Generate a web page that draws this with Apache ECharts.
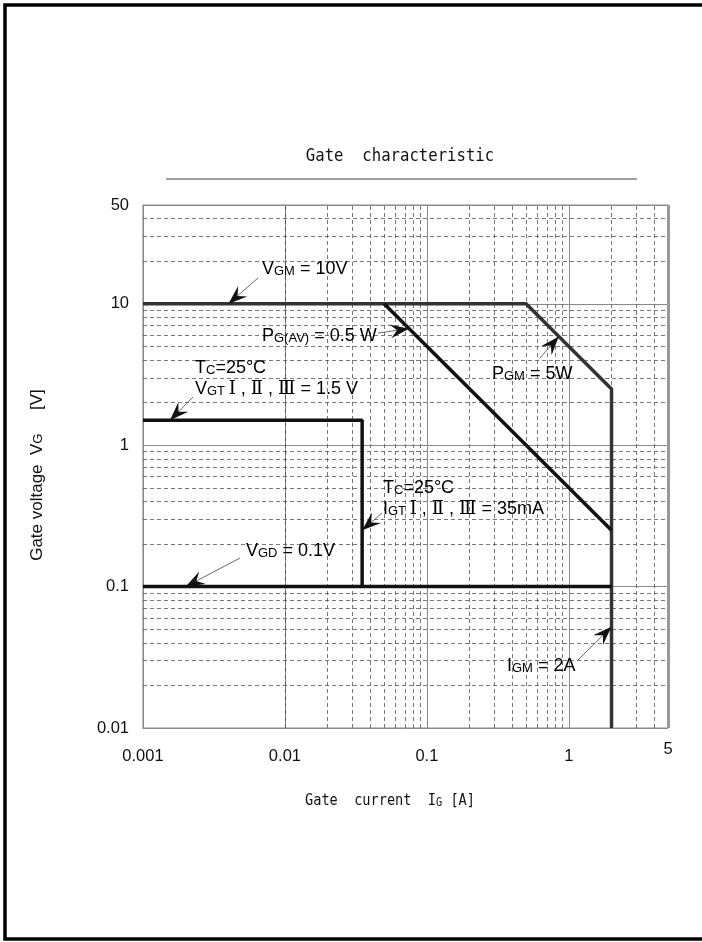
<!DOCTYPE html>
<html>
<head>
<meta charset="utf-8">
<script src="https://cdn.jsdelivr.net/npm/echarts@6/dist/echarts.min.js"></script>
<style>html,body{margin:0;padding:0;background:#fff}#c{width:702px;height:942px}</style>
</head>
<body>
<div id="c"></div>
<script>
// ---- data ----
var xTickValues = [0.001, 0.01, 0.1, 1, 5];
var yTickValues = [0.01, 0.1, 1, 10, 50];
var xMinorGrid = [0.002,0.003,0.004,0.005,0.006,0.007,0.008,0.009,0.02,0.03,0.04,0.05,0.06,0.07,0.08,0.09,0.2,0.3,0.4,0.5,0.6,0.7,0.8,0.9,2,3,4];
var yMinorGrid = [0.02,0.03,0.04,0.05,0.06,0.07,0.08,0.09,0.2,0.3,0.4,0.5,0.6,0.7,0.8,0.9,2,3,4,5,6,7,8,9,20,30,40];
var ratingOutline = [[0.001,10],[0.5,10],[2,2.5],[2,0.01]];   // VGM=10V, PGM=5W, IGM=2A
var pgAvLine = [[0.05,10],[2,0.25]];                          // PG(AV)=0.5W
var vgtLine = [[0.001,1.5],[0.035,1.5],[0.035,0.1]];          // VGT=1.5V, IGT=35mA
var vgdLine = [[0.001,0.1],[2,0.1]];                          // VGD=0.1V

var chart = echarts.init(document.getElementById('c'), null, {renderer:'canvas'});
var F = 'Liberation Sans, Arial, sans-serif';
var M = '"DejaVu Sans Mono", monospace';
var rich = {
  b:{fontSize:18,fontFamily:F,color:'#111',lineHeight:21,verticalAlign:'bottom'},
  s:{fontSize:13,fontFamily:F,color:'#111',lineHeight:17,verticalAlign:'bottom',padding:[0,0,1,0]},
  r:{fontSize:18,fontFamily:'DejaVu Serif, Liberation Serif, serif',color:'#111',lineHeight:21,verticalAlign:'bottom'}
};
function gridMark(list, axis){
  return list.map(function(v){ var o={}; o[axis]=v; return o; });
}
function fmt(v){ return String(+(+v).toPrecision(3)); }
var option = {
  animation:false,
  backgroundColor:'#fff',
  grid:{left:143,right:34,top:205,bottom:214,show:true,borderColor:'#8a8a8a',borderWidth:1.2},
  xAxis:{type:'log',logBase:10,min:0.001,max:5,
    axisLine:{show:false},axisTick:{show:false},
    splitLine:{show:true,lineStyle:{color:'#8a8a8a',width:1}},
    axisLabel:{margin:13,showMaxLabel:true,showMinLabel:true,
      formatter:function(v){ var s=fmt(v); return s==='5' ? '{up|5}' : '{n|'+s+'}'; },
      rich:{
        n:{fontSize:16.5,fontFamily:F,color:'#111',padding:[7,0,0,0]},
        up:{fontSize:16.5,fontFamily:F,color:'#111'}
      }}
  },
  yAxis:{type:'log',logBase:10,min:0.01,max:50,
    axisLine:{show:false},axisTick:{show:false},
    splitLine:{show:true,lineStyle:{color:'#8a8a8a',width:1}},
    axisLabel:{margin:14,fontSize:16.5,fontFamily:F,color:'#111',showMaxLabel:true,showMinLabel:true,
      formatter:fmt}
  },
  series:[
    {type:'line',data:[[0.001,0.01]],symbol:'none',lineStyle:{width:0},z:1,silent:true,
      markLine:{silent:true,symbol:'none',label:{show:false},animation:false,
        lineStyle:{color:'#555',width:0.8,type:[4,3]},
        data:gridMark(xMinorGrid,'xAxis').concat(gridMark(yMinorGrid,'yAxis'))}},
    {type:'line',data:[[5,0.01]],symbol:'none',lineStyle:{width:0},z:2,silent:true,
      markLine:{silent:true,symbol:'none',label:{show:false},animation:false,
        lineStyle:{color:'#999',width:3,type:'solid'},data:[{xAxis:5}]}},
    {name:'rating',type:'line',data:ratingOutline,symbol:'none',lineStyle:{color:'#333',width:3.5},z:5},
    {name:'pgav',type:'line',data:pgAvLine,symbol:'none',lineStyle:{color:'#111',width:3.5},z:5},
    {name:'vgt',type:'line',data:vgtLine,symbol:'none',lineStyle:{color:'#111',width:3.5},z:5},
    {name:'vgd',type:'line',data:vgdLine,symbol:'none',lineStyle:{color:'#111',width:3.5},z:5}
  ]
};
chart.setOption(option);

function px(p){ return chart.convertToPixel({gridIndex:0}, p); }
function arrow(tail, tipData){
  var tip = px(tipData);
  var dx = tip[0]-tail[0], dy = tip[1]-tail[1];
  var L = Math.sqrt(dx*dx+dy*dy), ux = dx/L, uy = dy/L, nx = -uy, ny = ux;
  var len = 19, w = 7, notch = 12;
  var b1 = [tip[0]-ux*len+nx*w, tip[1]-uy*len+ny*w];
  var b2 = [tip[0]-ux*len-nx*w, tip[1]-uy*len-ny*w];
  var n = [tip[0]-ux*notch, tip[1]-uy*notch];
  return [
    {type:'line',shape:{x1:tail[0],y1:tail[1],x2:n[0],y2:n[1]},style:{stroke:'#444',lineWidth:0.8},z:10},
    {type:'polygon',shape:{points:[tip,b1,n,b2]},style:{fill:'#111'},z:10}
  ];
}
function txt(x,y,t){
  return {type:'text',x:x,y:y,z:10,style:{text:t,rich:rich,verticalAlign:'middle',align:'left'}};
}
var g = [];
// frame
g.push({type:'polyline',shape:{points:[[720,5],[5,5],[5,939],[720,939]]},style:{stroke:'#000',lineWidth:3.5,fill:null},z:0});
// title
g.push({type:'text',x:400,y:157,scaleX:0.92,style:{text:'Gate  characteristic',font:'17px '+M,fill:'#111',align:'center',verticalAlign:'middle'}});
g.push({type:'line',shape:{x1:166,y1:179,x2:637,y2:179},style:{stroke:'#a0a0a0',lineWidth:1.8}});
// axis names
g.push({type:'text',x:390,y:801,scaleX:0.85,style:{text:'Gate  current  I{s|G} [A]',verticalAlign:'middle',align:'center',
  rich:{s:{fontSize:12,fontFamily:M,color:'#111',padding:[3,0,0,0]}},
  font:'16px '+M,fill:'#111'}});
g.push({type:'text',x:37,y:475,rotation:Math.PI/2,style:{text:'Gate voltage  V{s|G}     [V]',verticalAlign:'middle',align:'center',
  rich:{s:{fontSize:13,fontFamily:F,color:'#111',padding:[3,0,0,0]}},font:'17px '+F,fill:'#111'}});
// annotations
g.push(txt(262,268,'{b|V}{s|GM}{b| = 10V}'));
g.push(txt(262,335,'{b|P}{s|G(AV)}{b| = 0.5 W}'));
g.push(txt(492,373,'{b|P}{s|GM}{b| = 5W}'));
g.push(txt(195,367,'{b|T}{s|C}{b|=25°C}'));
g.push(txt(195,388,'{b|V}{s|GT }{r|Ⅰ}{b| , }{r|Ⅱ}{b| , }{r|Ⅲ}{b| = 1.5 V}'));
g.push(txt(383,487,'{b|T}{s|C}{b|=25°C}'));
g.push(txt(383,508,'{b|I}{s|GT }{r|Ⅰ}{b| , }{r|Ⅱ}{b| , }{r|Ⅲ}{b| = 35mA}'));
g.push(txt(246,550,'{b|V}{s|GD}{b| = 0.1V}'));
g.push(txt(507,665,'{b|I}{s|GM}{b| = 2A}'));
g = g.concat(arrow([258,278],[0.004,10]));
g = g.concat(arrow([378,333],[0.075,0.5/0.075]));
g = g.concat(arrow([540,358],[0.85,5/0.85]));
g = g.concat(arrow([193,397],[0.00155,1.5]));
g = g.concat(arrow([382,513],[0.035,0.25]));
g = g.concat(arrow([240,558],[0.002,0.1]));
g = g.concat(arrow([578,660],[2,0.052]));
chart.setOption({graphic:{elements:g}});
</script>
</body>
</html>
